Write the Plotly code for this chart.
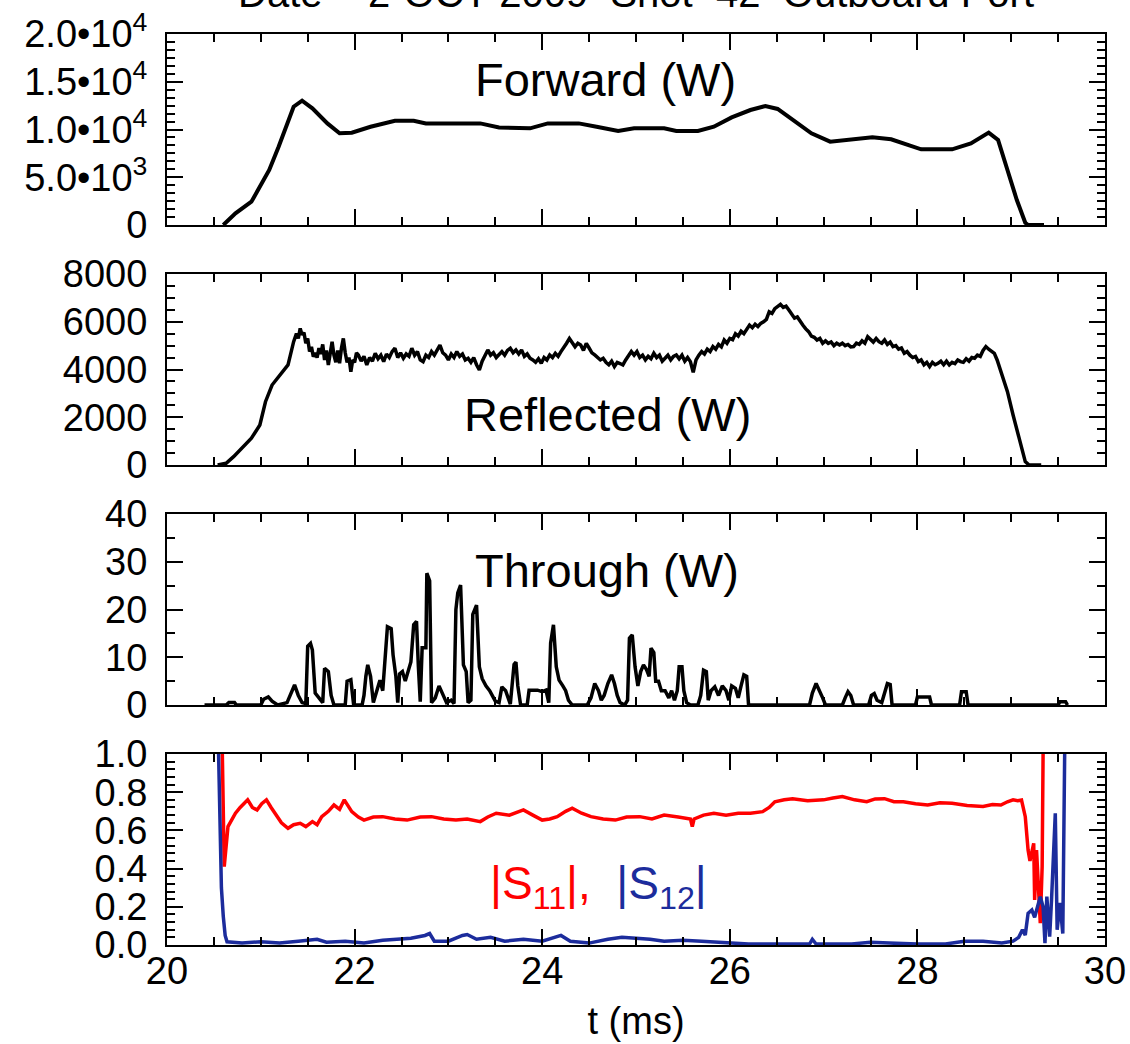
import plotly.graph_objects as go

# ---------------- data ----------------
fwd_t = [20.60, 20.73, 20.90, 20.99, 21.09, 21.19, 21.29, 21.35, 21.44, 21.55, 21.71, 21.84, 21.97,
         22.17, 22.43, 22.63, 22.76, 23.34, 23.54, 23.87, 24.06, 24.39, 24.58, 24.81, 24.98, 25.30,
         25.43, 25.66, 25.83, 26.02, 26.22, 26.38, 26.51, 26.67, 26.87, 27.07, 27.33, 27.52, 27.72,
         27.91, 28.04, 28.37, 28.57, 28.76, 28.86, 28.96, 29.06, 29.15, 29.18, 29.35]
fwd_w = [0, 1225, 2440, 4010, 5760, 8200, 10990, 12390, 13020, 12210, 10640, 9600, 9670,
         10290, 10920, 10920, 10640, 10640, 10220, 10120, 10640, 10640, 10290, 9840, 10120, 10120,
         9840, 9840, 10290, 11270, 12040, 12460, 12150, 10990, 9600, 8730, 8970, 9180, 8970,
         8380, 7920, 7920, 8550, 9670, 8900, 5760, 2620, 240, 0, 0]

ref_t = [20.54, 20.63, 20.71, 20.80, 20.90, 20.99, 21.05, 21.12, 21.20, 21.29,
         21.35, 21.38, 21.40, 21.42, 21.44, 21.46, 21.48, 21.50, 21.52, 21.54, 21.56, 21.58, 21.60,
         21.62, 21.64, 21.66, 21.68, 21.70, 21.72, 21.74, 21.76, 21.78, 21.80, 21.82, 21.84, 21.86,
         21.88, 21.90, 21.92, 21.94, 21.96, 21.98, 22.00, 22.02, 22.04, 22.07, 22.10, 22.13, 22.16,
         22.19, 22.22, 22.25, 22.28, 22.31, 22.34, 22.37, 22.40, 22.43, 22.46, 22.49, 22.52, 22.55,
         22.58, 22.61, 22.64, 22.67, 22.70, 22.73, 22.76, 22.79, 22.82, 22.85, 22.88, 22.91, 22.94,
         22.97, 23.00, 23.03, 23.06, 23.09, 23.12, 23.15, 23.18, 23.21, 23.24, 23.27, 23.30, 23.33,
         23.36, 23.39, 23.42, 23.45, 23.48, 23.51, 23.54, 23.57, 23.60, 23.63, 23.66, 23.69, 23.72,
         23.75, 23.78, 23.81, 23.84, 23.87, 23.90, 23.93, 23.96, 23.99, 24.02, 24.05, 24.08, 24.11,
         24.14, 24.17, 24.20, 24.23, 24.26, 24.29, 24.32, 24.35, 24.38, 24.41, 24.44, 24.47, 24.50,
         24.53, 24.56, 24.59, 24.62, 24.65, 24.68, 24.71, 24.74, 24.77, 24.80, 24.83, 24.86, 24.89,
         24.92, 24.95, 24.98, 25.01, 25.04, 25.07, 25.10, 25.13, 25.16, 25.19, 25.22, 25.25, 25.28,
         25.31, 25.34, 25.37, 25.40, 25.43, 25.46, 25.49, 25.52, 25.55, 25.58, 25.61, 25.64, 25.67,
         25.70, 25.73, 25.76, 25.79, 25.82, 25.85, 25.88, 25.91, 25.94, 25.97, 26.00, 26.03, 26.06,
         26.09, 26.12, 26.15, 26.18, 26.21, 26.24, 26.27, 26.30, 26.33, 26.36, 26.39, 26.42, 26.45,
         26.48, 26.51, 26.54, 26.57, 26.60, 26.63, 26.66, 26.69, 26.72, 26.75, 26.78, 26.81, 26.84,
         26.87, 26.90, 26.93, 26.96, 26.99, 27.02, 27.05, 27.08, 27.11, 27.14, 27.17, 27.20, 27.23,
         27.26, 27.29, 27.32, 27.35, 27.38, 27.41, 27.44, 27.47, 27.50, 27.53, 27.56, 27.59, 27.62,
         27.65, 27.68, 27.71, 27.74, 27.77, 27.80, 27.83, 27.86, 27.89, 27.92, 27.95, 27.98, 28.01,
         28.04, 28.07, 28.10, 28.13, 28.16, 28.19, 28.22, 28.25, 28.28, 28.31, 28.34, 28.37, 28.40,
         28.43, 28.46, 28.49, 28.52, 28.55, 28.58, 28.61, 28.64, 28.67, 28.70, 28.73, 28.76, 28.79,
         28.82, 28.85, 28.89, 28.96, 29.02, 29.09, 29.15, 29.19, 29.32]
ref_w = [0, 70, 350, 700, 1120, 1675, 2650, 3350, 3770, 4190,
         5165, 5500, 5300, 5720, 5450, 5550, 5100, 5300, 4750, 4950, 4540, 4700, 4500,
         4900, 4650, 5050, 4400, 4800, 4190, 4700, 5165, 4600, 4300, 4800, 4260, 4900,
         5300, 4700, 4300, 4500, 3910, 4400, 4300, 4700, 4610, 4350, 4550, 4190, 4500,
         4350, 4680, 4450, 4600, 4330, 4650, 4500, 4750, 4890, 4500, 4700, 4470, 4650,
         4550, 4890, 4600, 4750, 4400, 4330, 4600, 4500, 4750, 4600, 4850, 5025, 4700,
         4600, 4400, 4650, 4500, 4750, 4550, 4650, 4400, 4470, 4300, 4500, 4200, 3980,
         4350, 4550, 4820, 4600, 4700, 4500, 4610, 4750, 4600, 4800, 4890, 4700, 4820,
         4650, 4820, 4550, 4650, 4470, 4400, 4300, 4450, 4260, 4500, 4400, 4610, 4500,
         4680, 4550, 4750, 4900, 5100, 5300, 5150, 4950, 5100, 5025, 4800, 5095, 4900,
         4700, 4610, 4500, 4400, 4470, 4300, 4200, 4350, 4120, 4300, 4250, 4190, 4400,
         4550, 4750, 4600, 4750, 4500, 4600, 4400, 4550, 4450, 4680, 4500, 4600, 4350,
         4470, 4600, 4400, 4550, 4610, 4450, 4600, 4350, 4500, 4330, 3880, 4400, 4600,
         4750, 4650, 4850, 4750, 4960, 4850, 5050, 4950, 5235, 5100, 5300, 5250, 5500,
         5400, 5600, 5500, 5700, 5860, 5750, 5900, 5800, 5930, 6000, 6100, 6420, 6350,
         6550, 6650, 6730, 6600, 6650, 6490, 6300, 6150, 6200, 6000, 5850, 5700, 5585,
         5400, 5350, 5235, 5300, 5100, 5200, 5095, 5150, 5000, 5100, 5025, 5100, 5000,
         5050, 4950, 4960, 5100, 5050, 5200, 5100, 5375, 5250, 5150, 5300, 5165, 5100,
         5235, 5050, 5150, 4960, 5000, 4850, 4900, 4680, 4750, 4600, 4500, 4550, 4330,
         4400, 4200, 4300, 4120, 4300, 4200, 4260, 4350, 4200, 4350, 4190, 4300, 4250,
         4400, 4330, 4300, 4450, 4350, 4500, 4470, 4600, 4550, 4800, 4960, 4850, 4750,
         4680, 4400, 3910, 3070, 2095, 975, 140, 0, 0]

thr_t = [20.40, 20.63, 20.66, 20.72, 20.74, 21.00, 21.03, 21.08, 21.12, 21.18, 21.28, 21.32, 21.36,
         21.40, 21.44, 21.48, 21.50, 21.53, 21.55, 21.58, 21.62, 21.66, 21.68, 21.72, 21.75, 21.78,
         21.90, 21.92, 21.96, 21.99, 22.08, 22.10, 22.12, 22.14, 22.17, 22.20, 22.23, 22.27, 22.30,
         22.33, 22.35, 22.39, 22.41, 22.44, 22.46, 22.48, 22.51, 22.54, 22.57, 22.60, 22.63, 22.66,
         22.68, 22.70, 22.72, 22.76, 22.77, 22.80, 22.82, 22.86, 22.90, 22.94, 22.98, 23.03, 23.06,
         23.08, 23.10, 23.13, 23.16, 23.19, 23.21, 23.24, 23.26, 23.30, 23.33, 23.36, 23.40, 23.44,
         23.47, 23.50, 23.54, 23.57, 23.61, 23.64, 23.66, 23.70, 23.72, 23.74, 23.77, 23.84, 23.86,
         23.95, 24.00, 24.04, 24.07, 24.09, 24.12, 24.15, 24.18, 24.22, 24.25, 24.28, 24.32, 24.48,
         24.52, 24.56, 24.60, 24.63, 24.66, 24.70, 24.74, 24.77, 24.80, 24.83, 24.88, 24.91, 24.93,
         24.96, 24.99, 25.02, 25.05, 25.08, 25.11, 25.14, 25.16, 25.19, 25.21, 25.24, 25.27, 25.31,
         25.35, 25.38, 25.41, 25.44, 25.46, 25.49, 25.51, 25.54, 25.58, 25.66, 25.69, 25.72, 25.75,
         25.77, 25.80, 25.84, 25.88, 25.92, 25.96, 25.99, 26.02, 26.06, 26.09, 26.12, 26.15, 26.18,
         26.20, 26.85, 26.88, 26.92, 26.96, 26.99, 27.02, 27.20, 27.23, 27.26, 27.29, 27.32, 27.48,
         27.51, 27.54, 27.57, 27.62, 27.65, 27.68, 27.71, 27.73, 27.98, 28.00, 28.13, 28.15, 28.45,
         28.47, 28.52, 28.54, 29.50, 29.52, 29.58, 29.60]
thr_w = [0, 0, 0.5, 0.5, 0, 0, 1.2, 1.7, 0.8, 0, 0.5, 2.5, 4.2,
         2.0, 0.5, 0.3, 12.3, 12.9, 11.5, 2.5, 1.5, 0.5, 7.7, 7.0, 2.0, 0,
         0, 5.0, 5.3, 0, 0, 2.0, 6.0, 8.4, 6.0, 0.5, 2.5, 5.2, 3.0,
         10.5, 16.4, 16.0, 10.5, 6.0, 0.5, 6.5, 7.0, 5.0, 7.0, 9.0, 16.8, 17.5,
         8.0, 0.7, 12.0, 12.0, 27.6, 26.0, 0.5, 1.5, 4.0, 2.0, 0.5, 1.0, 0.3,
         20.0, 23.5, 25.1, 8.4, 7.0, 0.5, 1.0, 19.0, 20.9, 8.0, 5.5, 4.0, 3.0,
         2.0, 0.8, 0.5, 3.8, 3.0, 1.5, 0.2, 8.5, 9.0, 4.0, 0, 0, 3.1,
         3.1, 2.8, 3.1, 0.5, 13.0, 16.8, 8.0, 5.2, 4.0, 3.0, 1.0, 0, 0,
         1.5, 4.5, 3.0, 1.0, 2.0, 4.5, 6.3, 4.5, 2.0, 0.5, 0, 1.0, 14.0,
         14.7, 8.0, 4.0, 7.0, 8.4, 7.5, 6.0, 11.9, 11.0, 5.0, 5.0, 3.0, 3.0,
         1.5, 3.0, 1.0, 3.0, 8.0, 8.0, 3.0, 0.5, 0, 0, 2.0, 7.3, 7.0,
         1.0, 3.0, 3.8, 2.0, 4.0, 3.0, 1.0, 4.0, 3.5, 1.5, 4.0, 6.3, 6.0,
         0, 0, 2.5, 4.5, 3.0, 1.5, 0, 0, 1.5, 2.8, 2.0, 0, 0,
         2.0, 2.4, 1.0, 0.5, 2.5, 4.5, 4.3, 0, 0, 1.7, 1.7, 0, 0,
         2.8, 2.8, 0, 0, 0.7, 0.7, 0]

s11_t = [20.59, 20.61, 20.65, 20.69, 20.73, 20.78, 20.86, 20.91, 20.96, 21.01, 21.06, 21.11, 21.16,
         21.22, 21.29, 21.35, 21.42, 21.48, 21.55, 21.60, 21.65, 21.72, 21.78, 21.84, 21.89, 21.93,
         21.97, 22.04, 22.10, 22.20, 22.30, 22.43, 22.56, 22.70, 22.82, 22.95, 23.08, 23.20, 23.34,
         23.42, 23.51, 23.65, 23.80, 23.90, 24.00, 24.08, 24.16, 24.25, 24.32, 24.42, 24.52, 24.65,
         24.78, 24.90, 25.04, 25.17, 25.30, 25.45, 25.58, 25.60, 25.62, 25.72, 25.83, 25.96, 26.09,
         26.22, 26.35, 26.42, 26.48, 26.58, 26.67, 26.83, 27.00, 27.10, 27.20, 27.33, 27.46, 27.55,
         27.65, 27.75, 27.85, 27.98, 28.11, 28.24, 28.37, 28.53, 28.70, 28.80, 28.89, 28.96, 29.02,
         29.07, 29.11, 29.15, 29.18, 29.20, 29.24, 29.25, 29.27, 29.31, 29.33, 29.34]
s11_m = [1.00, 0.41, 0.62, 0.66, 0.69, 0.72, 0.76, 0.72, 0.707, 0.74, 0.76, 0.72, 0.68,
         0.64, 0.611, 0.63, 0.637, 0.62, 0.646, 0.63, 0.672, 0.70, 0.733, 0.71, 0.76, 0.73,
         0.698, 0.67, 0.654, 0.67, 0.672, 0.66, 0.654, 0.67, 0.672, 0.66, 0.654, 0.66, 0.646,
         0.67, 0.69, 0.68, 0.707, 0.68, 0.654, 0.66, 0.672, 0.70, 0.716, 0.69, 0.672, 0.66,
         0.654, 0.67, 0.672, 0.66, 0.68, 0.67, 0.66, 0.62, 0.66, 0.68, 0.69, 0.68, 0.69,
         0.69, 0.698, 0.72, 0.75, 0.76, 0.766, 0.755, 0.76, 0.77, 0.777, 0.76, 0.75, 0.765,
         0.766, 0.75, 0.75, 0.74, 0.733, 0.745, 0.742, 0.73, 0.725, 0.735, 0.733, 0.75, 0.76,
         0.755, 0.759, 0.672, 0.497, 0.44, 0.532, 0.236, 0.497, 0.114, 0.41, 1.00]

s12_t = [20.55, 20.57, 20.58, 20.60, 20.62, 20.64, 20.80, 21.00, 21.20, 21.40, 21.60, 21.70, 21.90,
         22.10, 22.30, 22.45, 22.60, 22.75, 22.80, 22.85, 23.00, 23.15, 23.20, 23.30, 23.45, 23.60,
         23.80, 24.00, 24.15, 24.20, 24.30, 24.50, 24.70, 24.85, 25.00, 25.15, 25.30, 25.50, 25.70,
         25.85, 26.00, 26.20, 26.50, 26.85, 26.88, 26.92, 27.30, 27.50, 27.70, 28.00, 28.30, 28.50,
         28.70, 28.90, 29.02, 29.08, 29.12, 29.15, 29.18, 29.22, 29.25, 29.31, 29.34, 29.36, 29.38,
         29.41, 29.43, 29.47, 29.49, 29.52, 29.55, 29.57]
s12_m = [1.00, 0.38, 0.30, 0.15, 0.05, 0.017, 0.01, 0.017, 0.01, 0.02, 0.03, 0.015, 0.02,
         0.01, 0.025, 0.03, 0.035, 0.05, 0.06, 0.02, 0.02, 0.05, 0.055, 0.03, 0.04, 0.02,
         0.03, 0.02, 0.04, 0.05, 0.02, 0.01, 0.03, 0.04, 0.035, 0.03, 0.02, 0.025, 0.02,
         0.015, 0.01, 0.005, 0.005, 0.005, 0.03, 0.005, 0.005, 0.015, 0.01, 0.005, 0.005, 0.02,
         0.02, 0.01, 0.02, 0.04, 0.08, 0.052, 0.166, 0.183, 0.145, 0.253, 0.20, 0.009, 0.253,
         0.044, 0.236, 0.69, 0.08, 0.22, 0.06, 1.00]

fwd_ticks = [0, 5000, 10000, 15000, 20000]
fwd_ticktext = ["0", "5.0•10<sup>3</sup>", "1.0•10<sup>4</sup>", "1.5•10<sup>4</sup>", "2.0•10<sup>4</sup>"]
s_ticks = [0.0, 0.2, 0.4, 0.6, 0.8, 1.0]
s_ticktext = ["0.0", "0.2", "0.4", "0.6", "0.8", "1.0"]
t_ticks = [20, 22, 24, 26, 28, 30]

title_text = "Date = 2-OCT-2009  Shot=42  Outboard Port"

# ---------------- figure ----------------
RED = "#ff0000"
BLUE = "#1c2c9c"
FONT = "Liberation Sans"
TICKSIZE = 38
LABELSIZE = 47

fig = go.Figure()
fig.add_trace(go.Scatter(x=fwd_t, y=fwd_w, mode="lines", line=dict(color="black", width=4),
                         xaxis="x", yaxis="y"))
fig.add_trace(go.Scatter(x=ref_t, y=ref_w, mode="lines", line=dict(color="black", width=3.5),
                         xaxis="x2", yaxis="y2"))
fig.add_trace(go.Scatter(x=thr_t, y=thr_w, mode="lines", line=dict(color="black", width=3.5),
                         xaxis="x3", yaxis="y3"))
fig.add_trace(go.Scatter(x=s11_t, y=s11_m, mode="lines", line=dict(color=RED, width=3.5),
                         xaxis="x4", yaxis="y4"))
fig.add_trace(go.Scatter(x=s12_t, y=s12_m, mode="lines", line=dict(color=BLUE, width=3.5),
                         xaxis="x4", yaxis="y4"))

W, H = 1130, 1044
L, R, T, B = 167, 25, 34, 99
ph = H - T - B


def py(p):
    return (H - B - p) / ph


def px(p):
    return (p - L) / (W - L - R)


panels = [(34, 225), (274, 465), (514, 705), (754, 945)]

common_axis = dict(showline=True, linecolor="black", linewidth=2, mirror="ticks",
                   ticks="inside", tickcolor="black", tickwidth=2, ticklen=16,
                   showgrid=False, zeroline=False, automargin=False,
                   tickfont=dict(family=FONT, size=TICKSIZE, color="black"))

layout = dict(width=W, height=H, margin=dict(l=L, r=R, t=T, b=B, autoexpand=False),
              paper_bgcolor="white", plot_bgcolor="white", showlegend=False,
              font=dict(family=FONT, color="black"))

for i, (top, bot) in enumerate(panels):
    n = "" if i == 0 else str(i + 1)
    xa = dict(common_axis, range=[20, 30], dtick=2, tick0=20,
              domain=[0, 1], anchor="y" + n,
              minor=dict(dtick=0.5, ticklen=8, tickwidth=2, tickcolor="black", ticks="inside"),
              showticklabels=False)
    layout["xaxis" + n] = xa

# free axis carrying the time tick labels and title, shared with the bottom panel
layout["xaxis5"] = dict(range=[20, 30], tickvals=t_ticks, matches="x4", overlaying="x4",
                        anchor="free", position=0, showline=False, ticks="",
                        showgrid=False, zeroline=False, ticklabelstandoff=0, automargin=False,
                        tickfont=dict(family=FONT, size=TICKSIZE, color="black"),
                        title=dict(text="t (ms)", font=dict(family=FONT, size=TICKSIZE, color="black"),
                                   standoff=16))

layout["yaxis"] = dict(common_axis, range=[0, 20000], domain=[py(panels[0][1]), py(panels[0][0])],
                       anchor="x", tickvals=fwd_ticks, ticktext=fwd_ticktext,
                       minor=dict(dtick=5000 / 6, ticklen=8, tickwidth=2, tickcolor="black", ticks="inside"),
                       ticklabelstandoff=10)
layout["yaxis2"] = dict(common_axis, range=[0, 8000], domain=[py(panels[1][1]), py(panels[1][0])],
                        anchor="x2", dtick=2000, tick0=0,
                        minor=dict(dtick=500, ticklen=8, tickwidth=2, tickcolor="black", ticks="inside"),
                        ticklabelstandoff=10)
layout["yaxis3"] = dict(common_axis, range=[0, 40], domain=[py(panels[2][1]), py(panels[2][0])],
                        anchor="x3", dtick=10, tick0=0,
                        minor=dict(dtick=5, ticklen=8, tickwidth=2, tickcolor="black", ticks="inside"),
                        ticklabelstandoff=10)
layout["yaxis4"] = dict(common_axis, range=[0, 1], domain=[max(0.0, py(panels[3][1])), py(panels[3][0])],
                        anchor="x4", tickvals=s_ticks, ticktext=s_ticktext,
                        minor=dict(dtick=0.04, ticklen=8, tickwidth=2, tickcolor="black", ticks="inside"),
                        ticklabelstandoff=10)

fig.update_layout(**layout)
# an invisible trace so the free time axis is drawn
fig.add_trace(go.Scatter(x=[20, 30], y=[None, None], mode="lines", xaxis="x5", yaxis="y4",
                         hoverinfo="skip", showlegend=False))

ann = [
    dict(text=title_text, x=px(636), y=py(-7), size=40),
    dict(text="Forward (W)", x=px(605), y=py(80), size=LABELSIZE),
    dict(text="Reflected (W)", x=px(607), y=py(415), size=LABELSIZE),
    dict(text="Through (W)", x=px(607), y=py(570), size=LABELSIZE),
    dict(text=f'<span style="color:{RED}">|S<sub>11</sub>|,</span>  '
              f'<span style="color:{BLUE}">|S<sub>12</sub>|</span>',
         x=px(598), y=py(886), size=46),
]
for a in ann:
    fig.add_annotation(xref="paper", yref="paper", showarrow=False, xanchor="center",
                       yanchor="middle", x=a["x"], y=a["y"], text=a["text"],
                       font=dict(family=FONT, color="black", size=a["size"]))

fig.write_html("out.html", config={"displayModeBar": False},
               post_script="document.body.style.margin='0';document.body.style.overflow='hidden';")
